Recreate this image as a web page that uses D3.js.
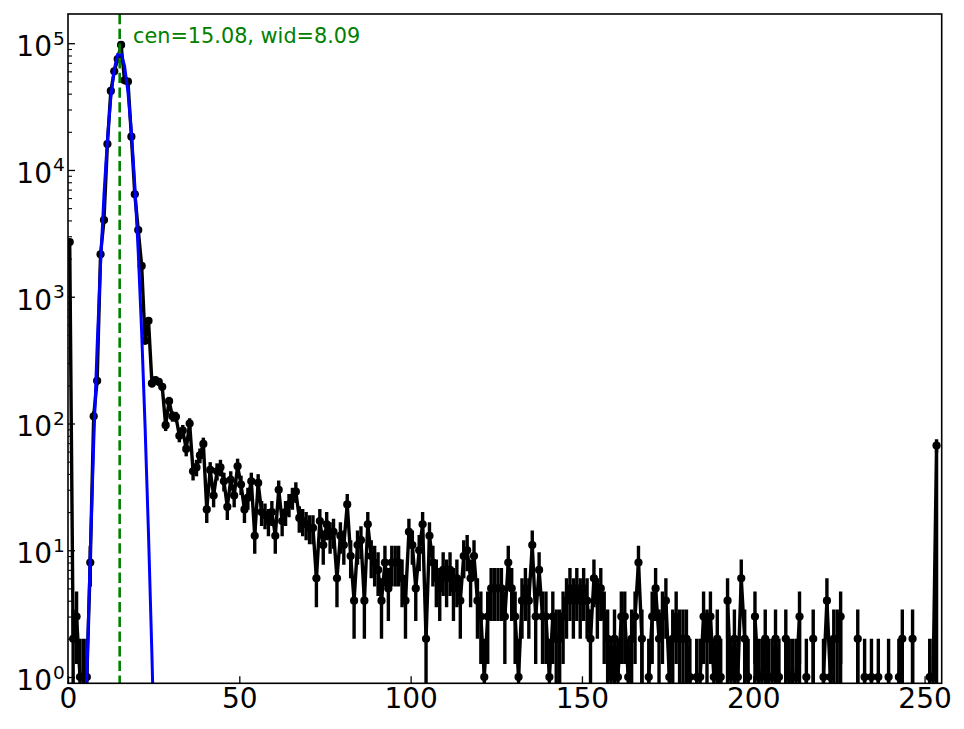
<!DOCTYPE html>
<html><head><meta charset="utf-8">
<script src="https://cdn.jsdelivr.net/npm/d3@7/dist/d3.min.js"></script>
<style>body{margin:0;background:#fff;}svg{display:block;}</style>
</head><body>
<svg id="c" width="964" height="729"></svg>
<script>
// histogram counts per bin (bin centre = index + 0.5)
const counts = [
 2700, 2, 3, 1, 1, 1, 8, 114, 217, 2160,
 4030, 16000, 42000, 60000, 75000, 97000, 51000, 49800, 18300, 6430,
 3360, 1750, 449, 645, 207, 220, 213, 195, 97, 150,
 114, 113, 80, 88, 63, 100, 42, 45, 56, 69,
 21, 43, 27, 42, 45, 35, 22, 36, 27, 46,
 33, 21, 26, 35, 13, 34, 20, 19, 17, 20,
 13, 30, 17, 20, 23, 26, 29, 18, 17, 16,
 15, 15, 6, 17, 11, 16, 13, 14, 6, 13,
 11, 23, 9, 4, 11, 12, 4, 16, 9, 8,
 7, 4, 8, 5, 8, 8, 8, 6, 4, 14,
 11, 5, 10, 16, 2, 13, 8, 6, 5, 7,
 6, 7, 5, 6, 4, 9, 10, 6, 9, 4,
 3, 1, 3, 5, 5, 5, 5, 3, 8, 5,
 3, 1, 4, 5, 4, 11, 3, 7, 3, 3,
 1, 3, 2, 2, 3, 4, 5, 4, 5, 4,
 5, 4, 2, 6, 4, 5, 3, 2, 1, 2,
 1, 3, 3, 1, 2, 3, 8, 2, 0, 1,
 3, 5, 2, 3, 4, 1, 2, 3, 2, 2,
 2, 1, 0, 1, 1, 3, 2, 3, 1, 2,
 1, 0, 4, 1, 2, 1, 6, 2, 1, 0,
 3, 1, 1, 2, 1, 1, 2, 1, 0, 2,
 1, 1, 1, 3, 0, 1, 0, 2, 0, 0,
 1, 4, 1, 2, 2, 3, 0, 0, 0, 0,
 2, 0, 1, 0, 1, 0, 1, 0, 0, 1,
 0, 0, 1, 2, 0, 0, 2, 0, 0, 0,
 0, 1, 1, 67, 0
];
const binCentreOffset = 0.5;
// gaussian fit curve
const fitX = [4.5, 5.5, 6.5, 7.5, 8.5, 9.5, 10.5, 11.5, 12.5, 13.5, 14.5, 15.5, 16.5, 17.5, 18.5, 19.5, 20.5, 21.5, 22.5, 23.5, 24.5, 25.5];
const fitY = [0.083, 1.01, 9.5, 70, 403, 1810, 6360, 17400, 37300, 62400, 81500, 83200, 66200, 41200, 20000, 7600, 2250, 522, 94, 13.3, 1.47, 0.126];
const fitCen = 15.08;
const fitWid = 8.09;
const xTicks = [0, 50, 100, 150, 200, 250];
const yTickExps = [0, 1, 2, 3, 4, 5];

const L = 68, R = 941.7, T = 14, B = 683.3;
const svg = d3.select('#c');
const FONT = 'DejaVu Sans, sans-serif';

const x = d3.scaleLinear().domain([0, 255]).range([L, R]);
const y = d3.scaleLog().domain([0.892, 1.70e5]).range([B, T]);
const FAR = B + 100000;
const yv = v => v > 0 ? y(v) : FAR;

svg.append('defs').append('clipPath').attr('id', 'clip')
  .append('rect').attr('x', L).attr('y', T).attr('width', R - L).attr('height', B - T);

const pts = counts.map((c, i) => ({ x: i + binCentreOffset, v: c }));
const plot = svg.append('g').attr('clip-path', 'url(#clip)');
const LW = 3.4;

// error bars
plot.append('g').selectAll('line').data(pts.filter(d => d.v > 0)).join('line')
  .attr('x1', d => x(d.x)).attr('x2', d => x(d.x))
  .attr('y1', d => yv(d.v - Math.sqrt(d.v)))
  .attr('y2', d => yv(d.v + Math.sqrt(d.v)))
  .attr('stroke', '#000').attr('stroke-width', LW);

// data line
plot.append('path').datum(pts)
  .attr('d', d3.line().x(d => x(d.x)).y(d => yv(d.v)))
  .attr('fill', 'none').attr('stroke', '#000').attr('stroke-width', LW)
  .attr('stroke-linejoin', 'round');

// markers
plot.append('g').selectAll('circle').data(pts.filter(d => d.v > 0)).join('circle')
  .attr('cx', d => x(d.x)).attr('cy', d => yv(d.v)).attr('r', 4.1).attr('fill', '#000');

// fit curve
plot.append('path').datum(fitX.map((fx, i) => [fx, fitY[i]]))
  .attr('d', d3.line().x(d => x(d[0])).y(d => yv(d[1])))
  .attr('fill', 'none').attr('stroke', '#0000ff').attr('stroke-width', 3);

// centre line
plot.append('line').attr('x1', x(fitCen)).attr('x2', x(fitCen)).attr('y1', T).attr('y2', B)
  .attr('stroke', '#008000').attr('stroke-width', 2.6).attr('stroke-dasharray', '10.3,4.4');

// x axis
const xAxis = svg.append('g').attr('transform', `translate(0,${B})`)
  .call(d3.axisBottom(x).tickValues(xTicks).tickSize(-7).tickPadding(4.8).tickFormat(d3.format('d')));
xAxis.select('.domain').remove();
xAxis.selectAll('.tick line').attr('stroke', '#000').attr('stroke-width', 1.3);
xAxis.selectAll('.tick text').attr('font-family', FONT).attr('font-size', 28).attr('fill', '#000');

// y axis major
const yMajor = yTickExps.map(e => Math.pow(10, e));
const yAxis = svg.append('g').attr('transform', `translate(${L},0)`)
  .call(d3.axisLeft(y).tickValues(yMajor).tickSize(-7).tickFormat(''));
yAxis.select('.domain').remove();
yAxis.selectAll('.tick line').attr('stroke', '#000').attr('stroke-width', 1.3);
yAxis.selectAll('.tick text').remove();
yAxis.selectAll('.tick').each(function (d) {
  const g = d3.select(this);
  g.append('text').attr('x', -16).attr('y', 12.5).attr('text-anchor', 'end')
    .attr('font-family', FONT).attr('font-size', 28).attr('fill', '#000').text('10');
  g.append('text').attr('x', -15).attr('y', 1).attr('text-anchor', 'start')
    .attr('font-family', FONT).attr('font-size', 18.5).attr('fill', '#000')
    .text(String(Math.round(Math.log10(d))));
});

// y minor ticks
const minor = [];
for (let e = -1; e <= 5; e++) for (let m = 2; m <= 9; m++) {
  const v = m * Math.pow(10, e);
  if (v > y.domain()[0] && v < y.domain()[1]) minor.push(v);
}
const yMin = svg.append('g').attr('transform', `translate(${L},0)`)
  .call(d3.axisLeft(y).tickValues(minor).tickSize(-4).tickFormat(''));
yMin.select('.domain').remove();
yMin.selectAll('.tick line').attr('stroke', '#000').attr('stroke-width', 1.1);

// frame
svg.append('rect').attr('x', L).attr('y', T).attr('width', R - L).attr('height', B - T)
  .attr('fill', 'none').attr('stroke', '#000').attr('stroke-width', 1.6);

// annotation
svg.append('text').attr('x', 133).attr('y', 43).attr('font-family', FONT).attr('font-size', 20.8)
  .attr('fill', '#008000').text(`cen=${fitCen.toFixed(2)}, wid=${fitWid.toFixed(2)}`);
</script>
</body></html>
